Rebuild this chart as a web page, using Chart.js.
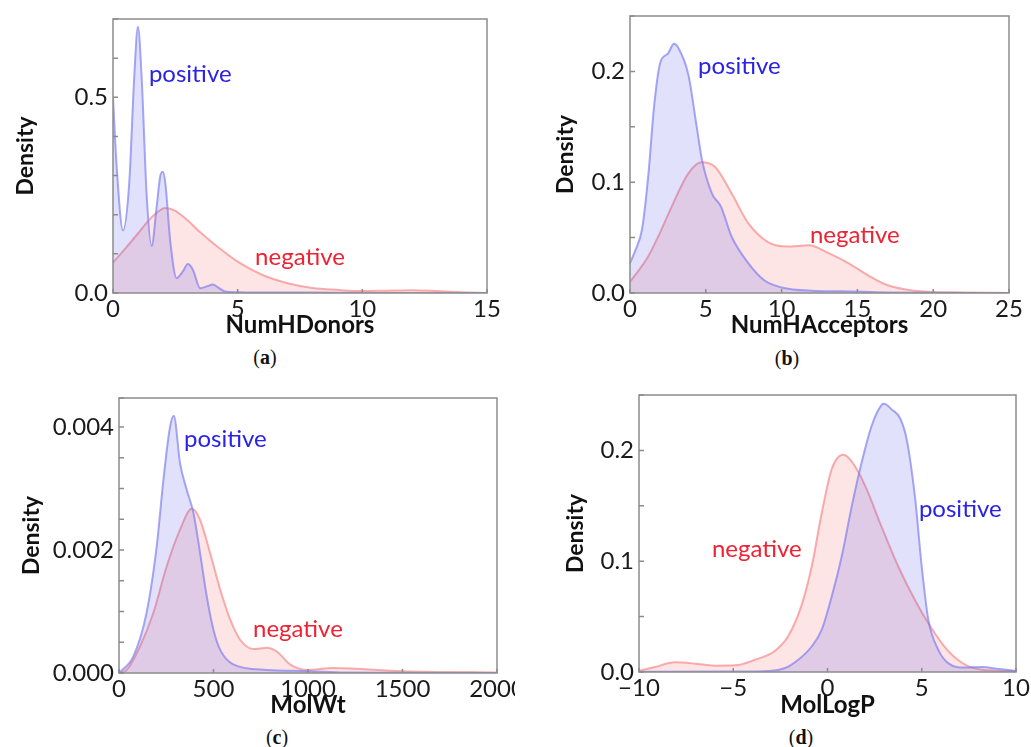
<!DOCTYPE html>
<html>
<head>
<meta charset="utf-8">
<script src="https://cdn.jsdelivr.net/npm/chart.js@4.4.0/dist/chart.umd.min.js"></script>
<style>
  body { margin: 0; background: #fff; width: 1031px; height: 747px; position: relative; overflow: hidden; }
  canvas { position: absolute; }
  .cap { position: absolute; font-family: "Liberation Serif", serif; font-size: 20px; color: #111; transform: translate(-50%, -50%); }
</style>
</head>
<body>
<canvas id="chartA" width="515" height="345" style="left:0;top:0"></canvas>
<canvas id="chartB" width="516" height="345" style="left:515px;top:0"></canvas>
<canvas id="chartC" width="515" height="345" style="left:0;top:380px"></canvas>
<canvas id="chartD" width="516" height="345" style="left:515px;top:380px"></canvas>
<div class="cap" style="left:265px;top:357px">(<b>a</b>)</div>
<div class="cap" style="left:787px;top:358px">(<b>b</b>)</div>
<div class="cap" style="left:277px;top:737px">(<b>c</b>)</div>
<div class="cap" style="left:801px;top:737px">(<b>d</b>)</div>
<script>
// (a) NumHDonors
const donorsPosX = [0, 0.15, 0.4, 0.65, 0.85, 1.0, 1.15, 1.35, 1.55, 1.75, 1.9, 2.0, 2.1, 2.3, 2.55, 2.8, 3.0, 3.2, 3.5, 3.8, 4.0, 4.2, 4.5, 5, 6, 8, 10, 15];
const donorsPosY = [0.50, 0.32, 0.16, 0.28, 0.55, 0.68, 0.55, 0.25, 0.12, 0.22, 0.30, 0.31, 0.28, 0.13, 0.038, 0.055, 0.074, 0.06, 0.012, 0.018, 0.022, 0.015, 0.004, 0.002, 0.001, 0.001, 0, 0];
const donorsNegX = [0, 0.5, 1, 1.5, 2.1, 2.5, 3, 3.5, 4, 5, 6, 7, 8, 9, 10, 11, 12, 13, 14, 15];
const donorsNegY = [0.078, 0.114, 0.152, 0.19, 0.217, 0.21, 0.185, 0.155, 0.128, 0.08, 0.046, 0.025, 0.013, 0.008, 0.005, 0.006, 0.007, 0.005, 0.002, 0];

// (b) NumHAcceptors
const accPosX = [0, 0.4, 0.8, 1.2, 1.6, 2.0, 2.5, 2.9, 3.2, 3.85, 4.4, 4.75, 5.4, 6.0, 6.7, 7.8, 8.9, 10, 12, 14, 17, 25];
const accPosY = [0.027, 0.04, 0.058, 0.105, 0.17, 0.208, 0.216, 0.225, 0.221, 0.197, 0.15, 0.12, 0.09, 0.078, 0.051, 0.027, 0.011, 0.005, 0.002, 0.0015, 0.0005, 0];
const accNegX = [0, 1.2, 2, 2.75, 3.85, 4.7, 5.6, 6.7, 7.8, 9.1, 10.4, 11.8, 13.1, 14.4, 15.7, 17, 18.8, 20, 22, 25];
const accNegY = [0.010, 0.033, 0.055, 0.078, 0.108, 0.118, 0.114, 0.09, 0.063, 0.046, 0.042, 0.043, 0.036, 0.027, 0.016, 0.007, 0.002, 0.001, 0.0005, 0];

// (c) MolWt
const wtPosX = [0, 76, 146, 200, 235, 270, 290, 323, 358, 394, 429, 464, 500, 535, 605, 782, 1000, 1200, 2000];
const wtPosY = [0, 0.00027, 0.00098, 0.00207, 0.00314, 0.00400, 0.00418, 0.00341, 0.00298, 0.0026, 0.00195, 0.00125, 0.0007, 0.00038, 0.00014, 0.00005, 0.00003, 0.00001, 0];
const wtNegX = [0, 41, 111, 182, 252, 323, 385, 429, 482, 535, 588, 641, 711, 782, 835, 905, 994, 1135, 1500, 2000];
const wtNegY = [0, 0.00005, 0.00043, 0.00098, 0.00173, 0.00233, 0.00267, 0.00249, 0.00195, 0.00136, 0.00087, 0.00054, 0.00039, 0.00041, 0.00035, 0.00014, 0.00005, 0.00008, 0.00003, 0.00001];

// (d) MolLogP
const logpPosX = [-10, -5, -3.1, -2.25, -1.55, -0.84, -0.31, 0.22, 0.75, 1.28, 1.81, 2.34, 2.87, 3.0, 3.4, 3.85, 4.2, 4.64, 5.0, 5.35, 5.88, 6.4, 7.3, 8.2, 9.1, 10];
const logpPosY = [0.0003, 0.0005, 0.001, 0.0036, 0.011, 0.023, 0.038, 0.068, 0.104, 0.149, 0.189, 0.222, 0.241, 0.242, 0.237, 0.229, 0.21, 0.158, 0.095, 0.047, 0.020, 0.008, 0.004, 0.0045, 0.0027, 0.001];
const logpNegX = [-10, -9.15, -8.1, -7, -6, -4.9, -3.85, -2.8, -2.1, -1.4, -0.84, -0.31, 0.22, 0.84, 1.28, 2.0, 2.87, 3.76, 4.64, 5.5, 6.4, 7.3, 8.2, 10];
const logpNegY = [0.001, 0.0045, 0.0087, 0.0075, 0.0057, 0.006, 0.011, 0.019, 0.032, 0.059, 0.095, 0.143, 0.183, 0.196, 0.19, 0.168, 0.131, 0.095, 0.065, 0.040, 0.019, 0.0066, 0.002, 0.0006];

const BLUE_LINE = 'rgba(120, 120, 240, 0.65)';
const BLUE_FILL = 'rgba(80, 80, 240, 0.17)';
const RED_LINE = 'rgba(245, 120, 120, 0.6)';
const RED_FILL = 'rgba(240, 80, 80, 0.15)';
const FONT = 'Lato, "DejaVu Sans", sans-serif';

function points(xs, ys) {
    return xs.map((x, i) => ({ x: x, y: ys[i] }));
}

function fmtX(v) {
    return v < 0 ? '\u2212' + Math.abs(v) : String(v);
}

// frame, inward ticks and the positive / negative notes
const framePlugin = {
    id: 'frame',
    afterDraw(chart, args, opts) {
        const { ctx, chartArea: a, scales: { x, y } } = chart;
        ctx.save();
        ctx.strokeStyle = '#8c8c8c';
        ctx.lineWidth = 1.5;
        ctx.strokeRect(a.left, a.top, a.right - a.left, a.bottom - a.top);
        ctx.beginPath();
        y.ticks.forEach(t => {
            const py = y.getPixelForValue(t.value);
            ctx.moveTo(a.left, py);
            ctx.lineTo(a.left + 5, py);
        });
        x.ticks.forEach(t => {
            const px = x.getPixelForValue(t.value);
            ctx.moveTo(px, a.bottom);
            ctx.lineTo(px, a.bottom - 4);
        });
        ctx.stroke();
        ctx.font = '24px ' + FONT;
        ctx.textAlign = 'left';
        ctx.textBaseline = 'middle';
        opts.notes.forEach(n => {
            ctx.fillStyle = n.color;
            ctx.fillText(n.text, x.getPixelForValue(n.x), y.getPixelForValue(n.y));
        });
        ctx.restore();
    }
};

function makePanel(id, p) {
    const ctx = document.getElementById(id).getContext('2d');
    return new Chart(ctx, {
        type: 'line',
        data: {
            datasets: [
                {
                    label: 'positive',
                    data: points(p.posX, p.posY),
                    borderColor: BLUE_LINE,
                    backgroundColor: BLUE_FILL,
                    fill: 'origin'
                },
                {
                    label: 'negative',
                    data: points(p.negX, p.negY),
                    borderColor: RED_LINE,
                    backgroundColor: RED_FILL,
                    fill: 'origin'
                }
            ]
        },
        options: {
            responsive: false,
            animation: false,
            elements: {
                point: { radius: 0 },
                line: { borderWidth: 2, tension: 0.4, cubicInterpolationMode: 'monotone' }
            },
            layout: { padding: { top: p.padTop, right: p.padRight, left: 0, bottom: 0 } },
            plugins: {
                legend: { display: false },
                tooltip: { enabled: false },
                frame: { notes: p.notes }
            },
            scales: {
                x: {
                    type: 'linear',
                    min: p.xMin,
                    max: p.xMax,
                    grid: { display: false, drawTicks: false },
                    border: { display: false },
                    ticks: {
                        stepSize: p.xStep,
                        autoSkip: false,
                        maxRotation: 0,
                        padding: 2,
                        color: '#1a1a1a',
                        font: { family: FONT, size: 24 },
                        callback: v => fmtX(v)
                    },
                    title: {
                        display: true,
                        text: p.xTitle,
                        color: '#111',
                        font: { family: FONT, size: 24, weight: 'bold' },
                        padding: { top: 0, bottom: 5 }
                    },
                    afterFit: s => {
                        s.height = p.xHeight;
                        s.paddingLeft = 0;
                        s.paddingRight = 0;
                    }
                },
                y: {
                    min: 0,
                    max: p.yMax,
                    grid: { display: false, drawTicks: false },
                    border: { display: false },
                    ticks: {
                        stepSize: p.yStep,
                        autoSkip: false,
                        padding: 5,
                        color: '#1a1a1a',
                        font: { family: FONT, size: 24 },
                        callback: v => {
                            const r = v / p.yMajor;
                            return Math.abs(r - Math.round(r)) < 1e-6 ? v.toFixed(p.yDec) : '';
                        }
                    },
                    title: {
                        display: true,
                        text: 'Density',
                        color: '#111',
                        font: { family: FONT, size: 23, weight: 'bold' },
                        padding: { top: p.yTitlePad, bottom: 0 }
                    },
                    afterFit: s => {
                        s.width = p.yWidth;
                        s.paddingTop = 0;
                        s.paddingBottom = 0;
                    }
                }
            }
        },
        plugins: [framePlugin]
    });
}

makePanel('chartA', {
    posX: donorsPosX, posY: donorsPosY, negX: donorsNegX, negY: donorsNegY,
    xMin: 0, xMax: 15, xStep: 5, xTitle: 'NumHDonors',
    yMax: 0.70, yStep: 0.1, yMajor: 0.5, yDec: 1,
    padTop: 19, padRight: 28, yWidth: 113, xHeight: 52, yTitlePad: 12,
    notes: [
        { text: 'positive', x: 1.44, y: 0.559, color: '#2a22e6' },
        { text: 'negative', x: 5.70, y: 0.092, color: '#ee2233' }
    ]
});

makePanel('chartB', {
    posX: accPosX, posY: accPosY, negX: accNegX, negY: accNegY,
    xMin: 0, xMax: 25, xStep: 5, xTitle: 'NumHAcceptors',
    yMax: 0.25, yStep: 0.05, yMajor: 0.1, yDec: 1,
    padTop: 16, padRight: 22, yWidth: 115, xHeight: 52, yTitlePad: 37,
    notes: [
        { text: 'positive', x: 4.49, y: 0.205, color: '#2a22e6' },
        { text: 'negative', x: 11.87, y: 0.0517, color: '#ee2233' }
    ]
});

makePanel('chartC', {
    posX: wtPosX, posY: wtPosY, negX: wtNegX, negY: wtNegY,
    xMin: 0, xMax: 2000, xStep: 500, xTitle: 'MolWt',
    yMax: 0.00447, yStep: 0.0005, yMajor: 0.002, yDec: 3,
    padTop: 18, padRight: 18, yWidth: 119, xHeight: 52, yTitlePad: 18,
    notes: [
        { text: 'positive', x: 344, y: 0.0038, color: '#2a22e6' },
        { text: 'negative', x: 709, y: 0.000715, color: '#ee2233' }
    ]
});

makePanel('chartD', {
    posX: logpPosX, posY: logpPosY, negX: logpNegX, negY: logpNegY,
    xMin: -10, xMax: 10, xStep: 5, xTitle: 'MolLogP',
    yMax: 0.25, yStep: 0.05, yMajor: 0.1, yDec: 1,
    padTop: 15, padRight: 15, yWidth: 124, xHeight: 53, yTitlePad: 47,
    notes: [
        { text: 'positive', x: 4.85, y: 0.147, color: '#2a22e6' },
        { text: 'negative', x: -6.13, y: 0.111, color: '#ee2233' }
    ]
});
</script>
</body>
</html>
